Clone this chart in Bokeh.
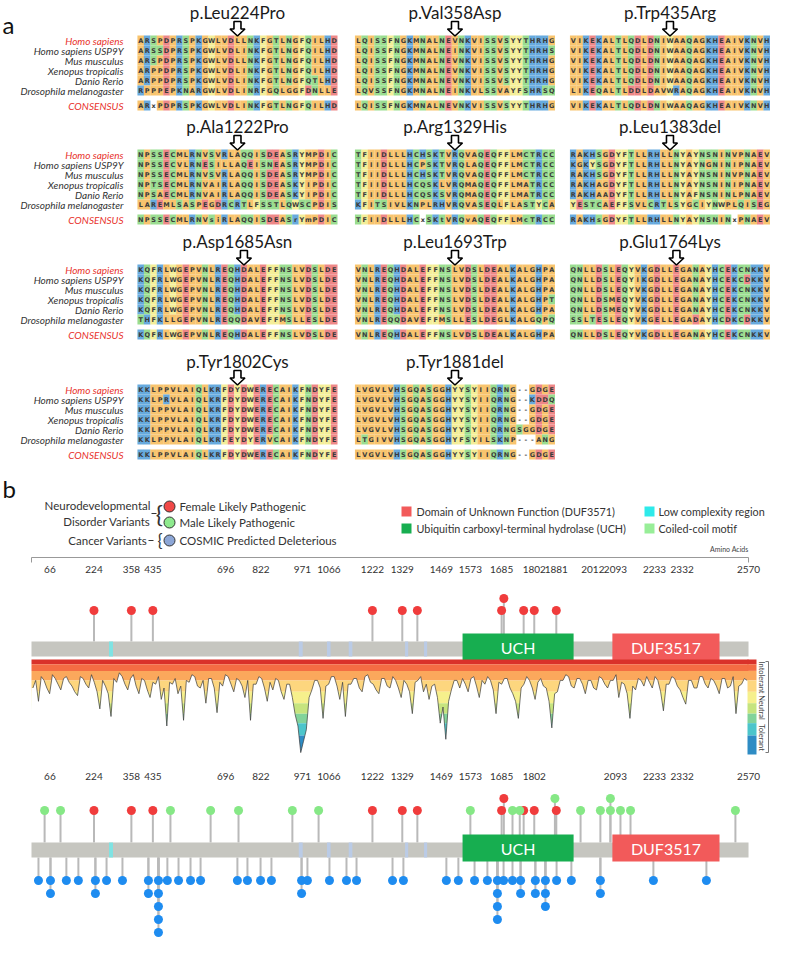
from bokeh.plotting import figure
from bokeh.layouts import column
from bokeh.models import Range1d
from bokeh.core.properties import value
from bokeh.embed import file_html
from bokeh.resources import INLINE
import math

FONT = "Lato"
SEQ_FONT = "DejaVu Sans"

# ---------------- data: panel a ----------------
species = ["Homo sapiens", "Homo sapiens USP9Y", "Mus musculus", "Xenopus tropicalis",
           "Danio Rerio", "Drosophila melanogaster", "CONSENSUS"]

variants = ["p.Leu224Pro", "p.Val358Asp", "p.Trp435Arg", "p.Ala1222Pro", "p.Arg1329His",
            "p.Leu1383del", "p.Asp1685Asn", "p.Leu1693Trp", "p.Glu1764Lys", "p.Tyr1802Cys",
            "p.Tyr1881del"]
variant_index = [15, 15, 15, 15, 15, 15, 16, 15, 16, 15, 15]

aln_leu224 = ["ARSPDPRSPKGWLVDLLNKFGTLNGFQILHD", "ARSSDPRSPKGWLVDLINKFGTLNGFQILHD",
              "ARSPDPRSPKGWLVDLLNKFGTLNGFQILHD", "ARPPDPRSPKGWLVDLINKFGTLNGFQILHD",
              "ARPPDPRSPKGWLVDLINKFGTLNGFQTLHD", "RPPPEPKNARGWLVDLINRFGQLGGFDNLLE",
              "ARxPDPRSPKGWLVDLINKFGTLNGFQILHD"]
aln_val358 = ["LQISSFNGKMNALNEVNKVISSVSYYTHRHG", "LQISSFNGKMNALNEINKVISSVSYYTHRHS",
              "LQISSFNGKMNALNEVNKVISSVSYYTHRHG", "LQISSFNGKMNALNEVNKVISSVSYYTHRHG",
              "LQISSFNGKMNALNEVNKVISSVSYYTHRHG", "LQVSSFNGKMNALNEINKVLSSVAYFSHRSQ",
              "LQISSFNGKMNALNEVNKVISSVSYYTHRHG"]
aln_trp435 = ["VIKEKALTLQDLDNIWAAQAGKHEAIVKNVH", "VIKEKALTLQDLDNIWAAQAGKHEAIVKNVH",
              "VIKEKALTLQDLDNIWAAQAGKHEAIVKNVH", "VIKEKALTLQDLDNIWAAQAGKHEAIVKNVH",
              "VIKEKALTLQDLDNIWAAQAGKHEAIVKNVH", "LIKEQALTLDDLDAVWRAQAGKHEAIVKNVH",
              "VIKEKALTLQDLDNIWAAQAGKHEAIVKNVH"]
aln_ala1222 = ["NPSSECMLRNVSVRLAQQISDEASRYMPDIC", "NPSSECVLRNESILLAQEISNEASRYMPDIC",
               "NPSSECMLRNVSVRLAQQISDEASRYMPDIC", "NPTSECMLRNVAIRLAQQISDEASKYIPDIC",
               "NPSAECMLRNVAIRLAQQISDEASKYIPDIC", "LAREMLSASPEGDRCRTLFSSTLQWSCPDIS",
               "NPSSECMLRNVsiRLAQQISDEASrYmPDIC"]
aln_arg1329 = ["TFIIDLLLHCHSKTVRQVAQEQFFLMCTRCC", "TFIIDLLLHCPSKTVRQLAQEQFFLMCTRCC",
               "TFIIDLLLHCHSKTVRQVAQEQFFLMCTRCC", "TFIIDLLLHCQSKLVRQMAQEQFFLMATRCC",
               "TFIIDLLLHCQSKSVRQMAQEQFFLMATRCC", "KFITSIVLKNPLRHVRQVASEQLFLASTYCA",
               "TFIIDLLLHCxSKtVRQvAQEQFFLMcTRCC"]
aln_leu1383 = ["RAKHSGDYFTLLRHLLNYAYNSNINVPNAEV", "KGKYSGDYFTLLRHLLNYAYNGNINIPNAEV",
               "RAKHSGDYFTLLRHLLNYAYNSNINVPNAEV", "RAKHAGDYFTLLRHLLNYAYNSNINIPNAEV",
               "RAKHAADYFTLLRHLLNYAFNSNINLPNAEV", "YESTCAEFFSVLCRTLSYGCIYNWPLQISEG",
               "RAKHsGDYFTLLRHLLNYAYNSNINxPNAEV"]
aln_asp1685 = ["KQFRLWGEPVNLREQHDALEFFNSLVDSLDE", "KQFRLWGEPVNLREQHDALEFFNSLVDSLDE",
               "KQFRLWGEPVNLREQHDALEFFNSLVDSLDE", "KQFRLWGEPVNLREQHDALEFFNSLVDSLDE",
               "KQFRLWGEPVNLREQHDALEFFNSLVDSLDE", "THFKLLGEPVNLREQQDAVEFFMSLLESLDE",
               "KQFRLWGEPVNLREQHDALEFFNSLVDSLDE"]
aln_leu1693 = ["VNLREQHDALEFFNSLVDSLDEALKALGHPA", "VNLREQHDALEFFNSLVDSLDEALKALGHPA",
               "VNLREQHDALEFFNSLVDSLDEALKALGHPA", "VNLREQHDALEFFNSLVDSLDEALKALGHPT",
               "VNLREQHDALEFFNSLVDSLDEALKALGHPA", "VNLREQQDAVEFFMSLLESLDEGLKALGQPQ",
               "VNLREQHDALEFFNSLVDSLDEALKALGHPA"]
aln_glu1764 = ["QNLLDSLEQYVKGDLLEGANAYHCEKCNKKV", "QNLLDSLEQYIKGDLLEGANAYHCEKCDKKV",
               "QNLLDSLEQYVKGDLLEGANAYHCEKCNKKV", "QNLLDSMEQYVKGDLLEGANAYHCEKCNKKV",
               "QNLLDSMEQYVKGDLLEGANAYHCEKCNKKV", "SSLTESLEQYVKGELLEGADAYHCDKCDKKV",
               "QNLLDSLEQYVKGDLLEGANAYHCEKCNKKV"]
aln_tyr1802 = ["KKLPPVLAIQLKRFDYDWERECAIKFNDYFE", "KKLPRVLAIQLKRFDYDWERECAIKFNDYFE",
               "KKLPPVLAIQLKRFDYDWERECAIKFNDYFE", "KKLPPVLAIQLKRFDYDWERECAIKFNDYFE",
               "KKLPPVLAIQLKRFDYDWERECAIKFNDYFE", "KKLPPVLAIQLKRFEYDYERVCAIKFNDYFE",
               "KKLPPVLAIQLKRFDYDWERECAIKFNDYFE"]
aln_tyr1881 = ["LVGVLVHSGQASGGHYYSYIIQRNG--GDGE", "LVGVLVHSGQASGGHYYSYIIQRNG--KDDQ",
               "LVGVLVHSGQASGGHYYSYIIQRNG--GDGE", "LVGVLVHSGQASGGHYYSYIIQRNG--GDGE",
               "LVGVLVHSGQASGGHYYSYIIQRNGSGGDGE", "LTGIVVHSGQASGGHYFSYILSKNP---ANG",
               "LVGVLVHSGQASGGHYYSYIIQRNG--GDGE"]
alignments = [aln_leu224, aln_val358, aln_trp435, aln_ala1222, aln_arg1329, aln_leu1383,
              aln_asp1685, aln_leu1693, aln_glu1764, aln_tyr1802, aln_tyr1881]

# ---------------- data: panel b ----------------
female_variants = [224, 358, 435, 1222, 1329, 1383, 1685, 1693, 1764, 1802, 1881]
male_variants = [47, 104, 498, 642, 742, 935, 1029, 1573, 1724, 1750, 1876, 1968, 2039,
                 2075, 2075, 2111, 2147, 2523]
cosmic_variants = [25, 68, 68, 125, 168, 229, 229, 269, 326, 419, 419, 455, 455, 455, 455, 455,
                   487, 527, 570, 606, 738, 774, 821, 860, 968, 968, 989, 1068, 1129, 1165,
                   1294, 1333, 1487, 1530, 1588, 1634, 1670, 1670, 1670, 1670, 1692, 1724,
                   1753, 1753, 1806, 1806, 1842, 1842, 1842, 1882, 1935, 2039, 2039, 2229, 2419]
ruler1_ticks = [66, 224, 358, 435, 696, 822, 971, 1066, 1222, 1329, 1469, 1573, 1685, 1802,
                1881, 2012, 2093, 2233, 2332, 2570]
ruler2_ticks = [66, 224, 358, 435, 696, 822, 971, 1066, 1222, 1329, 1469, 1573, 1685, 1802,
                2093, 2233, 2332, 2570]
protein_length = 2570
domain_names = ["UCH", "DUF3517"]
domain_start = [1545, 2082]
domain_end = [1943, 2466]
lowcomplex_start = [278]
lowcomplex_end = [292]
coiled_start = [958, 1059, 1137, 1339, 1407]
coiled_end = [972, 1072, 1150, 1350, 1418]
# tolerance score (0 intolerant .. 100 tolerant), one value per 10 residues
tolerance_step = 10
tolerance = [
    30, 22, 44, 18, 22, 30, 36, 16, 20, 26, 32, 20, 18, 24, 28, 34, 38, 18,
    20, 26, 30, 16, 24, 34, 52, 22, 28, 36, 60, 20, 24, 14, 18, 26, 32, 20,
    16, 28, 36, 20, 22, 32, 40, 24, 26, 18, 42, 30, 70, 24, 26, 20, 36, 28,
    64, 22, 24, 16, 18, 28, 30, 22, 46, 20, 20, 30, 56, 24, 28, 16, 18, 26,
    34, 20, 22, 28, 40, 22, 64, 26, 26, 18, 20, 30, 44, 24, 32, 20, 22, 34,
    42, 26, 26, 40, 58, 70, 98, 86, 74, 40, 32, 22, 22, 30, 62, 28, 26, 18,
    18, 28, 42, 24, 60, 26, 26, 20, 20, 30, 34, 18, 16, 24, 26, 32, 36, 20,
    20, 28, 30, 18, 22, 30, 40, 22, 26, 34, 57, 24, 22, 18, 34, 26, 42, 28,
    26, 40, 67, 50, 84, 44, 32, 22, 22, 30, 20, 26, 34, 20, 18, 28, 40, 22,
    26, 18, 22, 32, 57, 24, 26, 20, 20, 30, 36, 44, 62, 30, 26, 18, 22, 30,
    42, 24, 20, 28, 30, 44, 72, 36, 34, 22, 22, 16, 18, 28, 30, 20, 20, 26,
    36, 22, 22, 30, 32, 18, 20, 26, 30, 22, 22, 16, 40, 24, 26, 36, 62, 28,
    32, 20, 22, 28, 18, 24, 30, 18, 22, 34, 54, 26, 26, 18, 20, 28, 32, 40,
    47, 22, 22, 30, 30, 18, 18, 26, 30, 20, 22, 28, 36, 20, 20, 30, 28, 18,
    57, 28, 26, 20, 22]

# ---------------- styles ----------------
CELL_COLORS = {}
for aa in "AVLIMPG":
    CELL_COLORS[aa] = "#F8C46E"
for aa in "FWY":
    CELL_COLORS[aa] = "#F4EE98"
for aa in "KRH":
    CELL_COLORS[aa] = "#67AADE"
for aa in "DE":
    CELL_COLORS[aa] = "#EE8787"
for aa in "STNQC":
    CELL_COLORS[aa] = "#9ADD90"

BLOCK_X = [137, 354.5, 569.5]
BLOCK_Y = [40, 154, 269, 389]
CW = 6.45
ROWH = 10
CONS_OFF = 65
LABEL_X = 123
RED = "#E8322C"

# ---------------- panel a ----------------
pa = figure(width=770, height=470, x_range=Range1d(0, 770), y_range=Range1d(470, 0),
            output_backend="svg", toolbar_location=None, min_border=0,
            x_axis_location=None, y_axis_location=None)
pa.xgrid.visible = False
pa.ygrid.visible = False
pa.outline_line_color = None

cx, cy, cc, tx, ty, tt = [], [], [], [], [], []
ax_list, ay_list = [], []
title_x, title_y = [], []
lab_x, lab_y, lab_t, lab_c = [], [], [], []
for b, rows in enumerate(alignments):
    x0 = BLOCK_X[b % 3]
    yh = BLOCK_Y[b // 3]
    for r, seq in enumerate(rows):
        y = yh + (r * ROWH if r < 6 else CONS_OFF)
        for i, ch in enumerate(seq):
            xc = x0 + (i + 0.5) * CW
            col = CELL_COLORS.get(ch.upper())
            if col is not None:
                cx.append(xc); cy.append(y); cc.append(col)
            tx.append(xc); ty.append(y); tt.append(ch)
        if b % 3 == 0:
            lab_x.append(LABEL_X); lab_y.append(y); lab_t.append(species[r])
            lab_c.append(RED if r in (0, 6) else "#333333")
    ac = x0 + (variant_index[b] + 0.5) * CW
    top, mid, tip = yh - 19, yh - 11.5, yh - 4.5
    ax_list.append([ac - 3.5, ac + 3.5, ac + 3.5, ac + 7.5, ac, ac - 7.5, ac - 3.5])
    ay_list.append([top, top, mid, mid, tip, mid, mid])
    title_x.append(x0 + len(rows[0]) * CW / 2)
    title_y.append(yh - 28)

pa.rect(x=cx, y=cy, width=CW * 1.02, height=ROWH, fill_color=cc, line_color=None)
pa.text(x=tx, y=ty, text=tt, text_font=value(SEQ_FONT), text_font_size="6.5px",
        text_font_style="bold", text_color="#3b3b3b", text_align="center",
        text_baseline="middle")
pa.text(x=lab_x, y=lab_y, text=lab_t, text_color=lab_c, text_font=value(FONT),
        text_font_size="10px", text_font_style="italic", text_align="right",
        text_baseline="middle")
pa.patches(xs=ax_list, ys=ay_list, fill_color="white", line_color="black", line_width=1.6)
pa.text(x=title_x, y=title_y, text=variants, text_font=value(FONT), text_font_size="17px",
        text_color="#1a1a1a", text_align="center", text_baseline="middle")
pa.text(x=[2], y=[24], text=["a"], text_font=value(FONT), text_font_size="24px",
        text_color="#111111", text_align="left", text_baseline="middle")

# ---------------- panel b ----------------
AA0_PX = 31.0
PX_PER_AA = 0.279


def X(px):
    return (px - AA0_PX) / PX_PER_AA


pb = figure(width=770, height=486, x_range=Range1d(X(0), X(770)), y_range=Range1d(956, 470),
            output_backend="svg", toolbar_location=None, min_border=0,
            x_axis_location=None, y_axis_location=None)
pb.xgrid.visible = False
pb.ygrid.visible = False
pb.outline_line_color = None

pb.text(x=[X(2)], y=[488], text=["b"], text_font=value(FONT), text_font_size="24px",
        text_color="#111111", text_align="left", text_baseline="middle")

# legend (left)
LEG_FS = "11.5px"
pb.text(x=[X(150), X(150), X(147)], y=[505, 521, 540],
        text=["Neurodevelopmental", "Disorder Variants", "Cancer Variants"],
        text_font=value(FONT), text_font_size=LEG_FS, text_color="#333333",
        text_align="right", text_baseline="middle")
pb.segment(x0=[X(151), X(148)], y0=[513, 540], x1=[X(156), X(153)], y1=[513, 540],
           line_color="#333333", line_width=1)
pb.text(x=[X(162.5), X(162)], y=[513, 540], text=["{", "{"], text_font=value(FONT),
        text_font_size=["24px", "17px"], text_color="#333333", text_align="right",
        text_baseline="middle")
pb.scatter(x=[X(169), X(169), X(169)], y=[506, 522, 540], size=11,
           fill_color=["#F04848", "#8EEA8E", "#8CA6D6"], line_color="#333333", line_width=1)
pb.text(x=[X(179), X(179), X(179)], y=[506, 522, 540],
        text=["Female Likely Pathogenic", "Male Likely Pathogenic", "COSMIC Predicted Deleterious"],
        text_font=value(FONT), text_font_size=LEG_FS, text_color="#333333",
        text_align="left", text_baseline="middle")
# legend (right)
pb.scatter(x=[X(406), X(406), X(649), X(649)], y=[511, 528, 511, 528], marker="square",
           size=10, fill_color=["#F25A5A", "#17AE50", "#2EEAEA", "#98EE98"], line_color=None)
pb.text(x=[X(416), X(416), X(658), X(658)], y=[511, 528, 511, 528],
        text=["Domain of Unknown Function (DUF3571)", "Ubiquitin carboxyl-terminal hydrolase (UCH)",
              "Low complexity region", "Coiled-coil motif"],
        text_font=value(FONT), text_font_size="10.8px", text_color="#333333",
        text_align="left", text_baseline="middle")

# ruler 1
RULER_Y = 557
pb.text(x=[X(748)], y=[548], text=["Amino Acids"], text_font=value(FONT), text_font_size="7px",
        text_color="#444444", text_align="right", text_baseline="middle")
pb.segment(x0=[0], y0=[RULER_Y], x1=[protein_length], y1=[RULER_Y], line_color="#999999",
           line_width=1)
pb.segment(x0=[0, protein_length], y0=[RULER_Y, RULER_Y], x1=[0, protein_length],
           y1=[RULER_Y + 5, RULER_Y + 5], line_color="#999999", line_width=1)
pb.text(x=ruler1_ticks, y=[RULER_Y + 12] * len(ruler1_ticks), text=[str(t) for t in ruler1_ticks],
        text_font=value(FONT), text_font_size="10px", text_color="#333333",
        text_align="center", text_baseline="middle")
# ruler 2 labels
pb.text(x=ruler2_ticks, y=[776] * len(ruler2_ticks), text=[str(t) for t in ruler2_ticks],
        text_font=value(FONT), text_font_size="10px", text_color="#333333",
        text_align="center", text_baseline="middle")


def stack_levels(positions, tol=10):
    placed, levels = [], []
    for p in positions:
        lv = 1
        while any(l == lv and abs(p - q) <= tol for q, l in placed):
            lv += 1
        placed.append((p, lv))
        levels.append(lv)
    return levels


STEM = "#B9B9B9"
FEMALE = "#F03C3C"
MALE = "#86E886"
COSMIC = "#1E8CF0"
BAR = "#C6C6C0"


def draw_protein(bar_top, text_y):
    bar_bot = bar_top + 15
    pb.quad(left=[0], right=[protein_length], top=[bar_top], bottom=[bar_bot],
            fill_color=BAR, line_color=None)
    pb.quad(left=lowcomplex_start, right=lowcomplex_end, top=[bar_top] * len(lowcomplex_start),
            bottom=[bar_bot] * len(lowcomplex_start), fill_color="#7FE3E3", line_color=None)
    pb.quad(left=coiled_start, right=coiled_end, top=[bar_top] * len(coiled_start),
            bottom=[bar_bot] * len(coiled_start), fill_color="#BACBE6", line_color=None)
    pb.quad(left=domain_start, right=domain_end, top=[bar_top - 8] * 2, bottom=[bar_bot + 4] * 2,
            fill_color=["#17AE50", "#F25A5A"], line_color=None)
    pb.text(x=[(s + e) / 2 for s, e in zip(domain_start, domain_end)], y=[text_y] * 2,
            text=domain_names, text_font=value(FONT), text_font_size="16px",
            text_color="white", text_align="center", text_baseline="middle")


# track 1 (female only)
T1_BAR = 641
lv1 = stack_levels(female_variants)
y1 = [610 - (l - 1) * 12 for l in lv1]
pb.segment(x0=female_variants, y0=[T1_BAR] * len(y1), x1=female_variants, y1=y1,
           line_color=STEM, line_width=2)
draw_protein(T1_BAR, 647)
pb.scatter(x=female_variants, y=y1, size=9, fill_color=FEMALE, line_color=None)

# tolerance landscape: colour bands, masked below the tolerance curve
LAND_TOP = 659
LAND_K = 0.95
bands = [(0, 5, "#D9322A"), (5, 12, "#F46D43"), (12, 22, "#FBA85C"), (22, 34, "#FDD67E"),
         (34, 46, "#F6F08C"), (46, 57, "#C6E47E"), (57, 67, "#82D39A"), (67, 80, "#4CC5CB"),
         (80, 101, "#2E8CC4")]
tol_x = [i * tolerance_step + tolerance_step / 2 for i in range(len(tolerance))]
curve = [LAND_TOP + s * LAND_K for s in tolerance]
pb.quad(left=[0] * len(bands), right=[protein_length] * len(bands),
        top=[LAND_TOP + lo * LAND_K for lo, hi, c in bands],
        bottom=[LAND_TOP + hi * LAND_K for lo, hi, c in bands],
        fill_color=[c for lo, hi, c in bands], line_color=None)
LAND_BOT = LAND_TOP + 101 * LAND_K + 1
pb.patch(x=[0] + tol_x + [protein_length, protein_length + 5, -5],
         y=[curve[0]] + curve + [curve[-1], LAND_BOT, LAND_BOT],
         fill_color="white", line_color=None)
pb.line(x=tol_x, y=curve, line_color="#3a3a3a", line_width=0.7)

# colour bar
pb.quad(left=[X(747)] * len(bands), right=[X(756)] * len(bands),
        top=[LAND_TOP + lo * LAND_K for lo, hi, c in bands],
        bottom=[LAND_TOP + min(hi, 100) * LAND_K for lo, hi, c in bands],
        fill_color=[c for lo, hi, c in bands], line_color=None)
pb.line(x=[X(765), X(768), X(768), X(765)], y=[661, 661, 752, 752], line_color="#777777",
        line_width=1)
pb.text(x=[X(761)] * 3, y=[677, 707, 737], text=["Intolerant", "Neutral", "Tolerant"],
        angle=-math.pi / 2, text_font=value(FONT), text_font_size="7.5px",
        text_color="#444444", text_align="center", text_baseline="middle")

# track 2
T2_BAR = 842
upper = female_variants + male_variants
ucol = [FEMALE] * len(female_variants) + [MALE] * len(male_variants)
lv2 = stack_levels(upper)
y2 = [810 - (l - 1) * 12 for l in lv2]
pb.segment(x0=upper, y0=[T2_BAR] * len(upper), x1=upper, y1=y2, line_color=STEM, line_width=2)
lv3 = stack_levels(cosmic_variants)
y3 = [880 + (l - 1) * 13 for l in lv3]
pb.segment(x0=cosmic_variants, y0=[T2_BAR + 15] * len(y3), x1=cosmic_variants, y1=y3,
           line_color=STEM, line_width=2)
draw_protein(T2_BAR, 848)
pb.scatter(x=upper, y=y2, size=9, fill_color=ucol, line_color=None)
pb.scatter(x=cosmic_variants, y=y3, size=9, fill_color=COSMIC, line_color=None)

layout = column(pa, pb, spacing=0)
open("out.html", "w").write(file_html(layout, INLINE))
